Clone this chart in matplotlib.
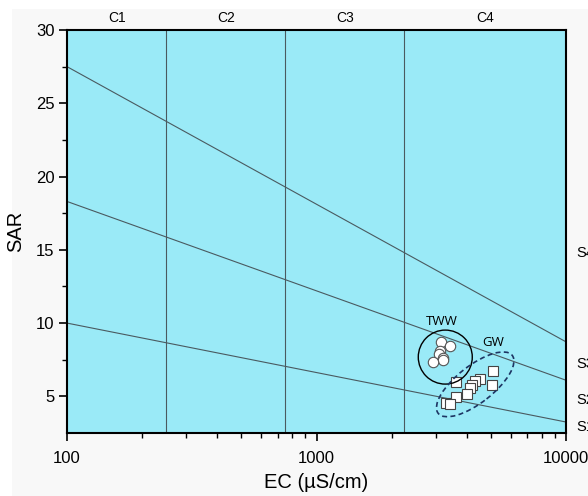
import numpy as np
import matplotlib
matplotlib.use("Agg")
import matplotlib.pyplot as plt
from matplotlib.patches import Ellipse, Rectangle
from matplotlib.transforms import blended_transform_factory, IdentityTransform

plt.rcParams['font.family'] = ['Liberation Sans', 'DejaVu Sans']

# treated wastewater samples
tww_ec = [3147, 3428, 3126, 3097, 3222, 3205, 2938]
tww_sar = [8.72, 8.42, 8.08, 7.86, 7.62, 7.51, 7.35]

# groundwater samples
gw_ec = [5112, 3624, 4521, 4318, 4188, 5066, 4123, 4000, 3624, 3304, 3428]
gw_sar = [6.76, 5.98, 6.18, 6.03, 5.75, 5.80, 5.57, 5.19, 4.93, 4.52, 4.47]

# salinity class boundaries (EC) and sodium hazard lines (SAR at EC=100 and EC=10000)
c_bounds = [250, 750, 2250]
c_labels = ["C1", "C2", "C3", "C4"]
s_left = [10.0, 18.3, 27.5]
s_right = [3.25, 6.1, 8.72]
s_labels = ["S1", "S2", "S3", "S4"]
s_label_y = [2.88, 4.73, 7.2, 14.75]

xlo, xhi = 100, 10000
ylo, yhi = 2.5, 30

fig = plt.figure(figsize=(5.88, 4.96), dpi=100, facecolor="white")
fig.patches.append(Rectangle((12 / 588, 0), 1, 1 - 9 / 496, transform=fig.transFigure,
                             facecolor="#f8f8f8", edgecolor="none", zorder=-10))
ax = fig.add_axes([67 / 588, 1 - 433 / 496, 499 / 588, 403 / 496])
ax.set_facecolor("#9aeaf7")
ax.set_xscale("log")
ax.set_xlim(xlo, xhi)
ax.set_ylim(ylo, yhi)

for c in c_bounds:
    ax.axvline(c, color="#4a5a60", lw=0.8, zorder=1)
for a, b in zip(s_left, s_right):
    ax.plot([xlo, xhi], [a, b], color="#4a5a60", lw=0.8, zorder=1)

# class labels above the plot
edges = [xlo] + c_bounds + [xhi]
top = blended_transform_factory(ax.transData, ax.transAxes)
for i, lab in enumerate(c_labels):
    xm = np.sqrt(edges[i] * edges[i + 1])
    ax.text(xm, 1.03, lab, transform=top, ha="center", va="center", fontsize=10)

right = blended_transform_factory(ax.transAxes, ax.transData)
for lab, y in zip(s_labels, s_label_y):
    ax.text(1.02, y, lab, transform=right, ha="left", va="center", fontsize=10.5,
            clip_on=False)

ax.plot(tww_ec, tww_sar, "o", ms=7.5, mfc="white", mec="#555555", mew=0.8, zorder=4)
ax.plot(gw_ec, gw_sar, "s", ms=7, mfc="white", mec="#444444", mew=0.8, zorder=4)


# group outlines drawn in pixel space so the circle stays round on the log axis
def to_pixels(x, y):
    fx = (np.log10(x) - 2) / 2
    fy = (y - ylo) / (yhi - ylo)
    return ax.transAxes.transform((fx, fy))


circ = Ellipse(to_pixels(3282, 7.68), 54, 54, fill=False, ec="black", lw=1.0,
               zorder=5, transform=IdentityTransform())
ax.add_artist(circ)
ell = Ellipse(to_pixels(4326, 5.82), 94, 37, angle=38, fill=False, ec="#1d3563",
              lw=1.2, ls=(0, (3, 2)), zorder=5, transform=IdentityTransform())
ax.add_artist(ell)

ax.text(3174, 10.1, "TWW", ha="center", va="center", fontsize=9.5,
        family=["Open Sans", "DejaVu Sans"])
ax.text(5118, 8.65, "GW", ha="center", va="center", fontsize=9.5,
        family=["Open Sans", "DejaVu Sans"])

ax.set_yticks([5, 10, 15, 20, 25, 30])
ax.set_yticks(np.arange(7.5, 30, 5), minor=True)
ax.set_xticks([100, 1000, 10000])
ax.set_xticklabels(["100", "1000", "10000"])
ax.tick_params(axis="both", which="major", direction="out", length=6, width=1.2,
               labelsize=12, pad=3)
ax.tick_params(axis="both", which="minor", direction="out", length=3.5, width=1.0)
ax.tick_params(axis="x", which="major", pad=7)
for s in ax.spines.values():
    s.set_linewidth(1.5)

ax.set_xlabel("EC (µS/cm)", fontsize=14.5, labelpad=5)
ax.set_ylabel("SAR", fontsize=14.5, labelpad=8)

fig.savefig("out.png", dpi=100, facecolor=fig.get_facecolor())
